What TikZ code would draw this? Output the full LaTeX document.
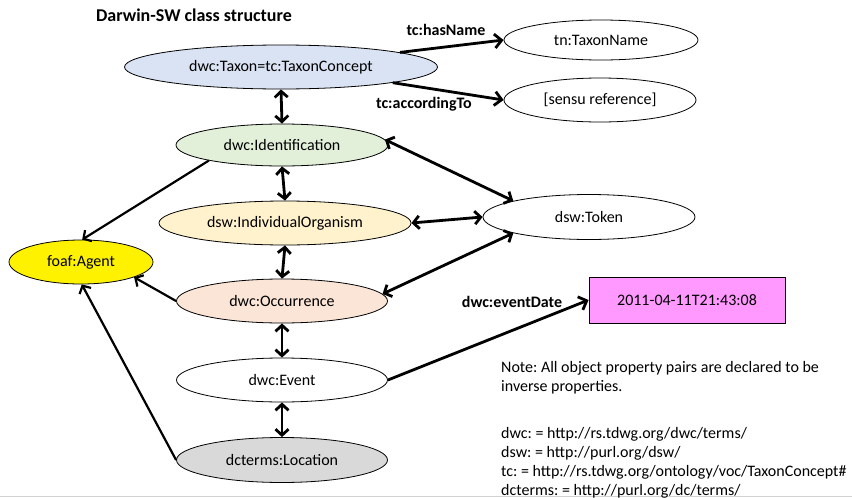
\documentclass[tikz,border=0pt]{standalone}
\usepackage{fontspec}
\setmainfont{Carlito}
\usetikzlibrary{shapes.geometric,arrows.meta}
\definecolor{taxonblue}{HTML}{DAE3F3}
\definecolor{identgreen}{HTML}{E2EFD9}
\definecolor{orgyellow}{HTML}{FFF2CC}
\definecolor{occpeach}{HTML}{FBE5D6}
\definecolor{locgray}{HTML}{D9D9D9}
\definecolor{datepink}{HTML}{FF99FF}
\frenchspacing
\begin{document}
\begin{tikzpicture}[x=1pt,y=-1pt,
  ell/.style={ellipse, draw=black, line width=0.8pt, inner sep=0pt, font=\fontsize{16}{19}\selectfont},
  lbl/.style={font=\bfseries\fontsize{16}{19}\selectfont, inner sep=0pt},
  txt/.style={font=\fontsize{16}{19}\selectfont, inner sep=0pt, anchor=base west},
  onearrow/.style={line width=2.8pt, -{Straight Barb[length=7pt,width=14pt]}},
  twoarrow/.style={line width=2.8pt, {Straight Barb[length=6pt,width=13pt]}-{Straight Barb[length=6pt,width=13pt]}},
  thinarrow/.style={line width=2.2pt, -{Straight Barb[length=6pt,width=13pt]}}
]
\useasboundingbox (0,0) rectangle (852,498);
\fill[white] (0,0) rectangle (852,498);
\draw[gray!35, line width=1pt] (0,496.5) -- (852,496.5);

\node[lbl, font=\bfseries\fontsize{18}{21}\selectfont] (title) at (194,15) {Darwin-SW class structure};

\node[ell, fill=taxonblue, minimum width=313, minimum height=44] (taxon) at (281,67) {dwc:Taxon=tc:TaxonConcept};
\node[ell, fill=white, minimum width=194, minimum height=40] (tname) at (601,40) {tn:TaxonName};
\node[ell, fill=white, minimum width=192, minimum height=44] (sensu) at (600,100) {[sensu reference]};
\node[ell, fill=identgreen, minimum width=212, minimum height=42] (ident) at (282,145) {dwc:Identification};
\node[ell, fill=orgyellow, minimum width=252, minimum height=44] (org) at (285,223) {dsw:IndividualOrganism};
\node[ell, fill=yellow, minimum width=144, minimum height=44] (agent) at (81,262) {foaf:Agent};
\node[ell, fill=occpeach, minimum width=211, minimum height=44] (occ) at (282,301) {dwc:Occurrence};
\node[ell, fill=white, minimum width=211, minimum height=44] (event) at (282,380) {dwc:Event};
\node[ell, fill=locgray, minimum width=211, minimum height=45] (loc) at (282,460) {dcterms:Location};
\node[ell, fill=white, minimum width=212, minimum height=45] (token) at (589,217) {dsw:Token};
\node[draw=black, line width=0.8pt, fill=datepink, minimum width=196, minimum height=46, inner sep=0pt, font=\fontsize{16}{19}\selectfont] (date) at (687,300) {2011-04-11T21:43:08};

% labels
\node[lbl] (lhas) at (446,30) {tc:hasName};
\node[lbl] (lacc) at (424,104) {tc:accordingTo};
\node[lbl] (ldate) at (512,302) {dwc:eventDate};

% connectors
\draw[onearrow] (taxon.7.6) -- (tname.west);
\draw[onearrow] (taxon.-8) -- (sensu.west);
\draw[twoarrow] (taxon.south) -- (ident.north);
\draw[twoarrow] (ident.south) -- (org.north);
\draw[twoarrow] (org.south) -- (occ.north);
\draw[twoarrow] (occ.south) -- (event.north);
\draw[twoarrow] (event.south) -- (loc.north);
\draw[twoarrow] (ident.3) -- (token.168);
\draw[twoarrow] (org.east) -- (token.west);
\draw[twoarrow] (occ.4) -- (token.192);
\draw[onearrow] (event.east) -- (date.west);
\draw[thinarrow] (ident.192) -- (agent.87);
\draw[thinarrow] (occ.west) -- (agent.-16);
\draw[thinarrow] (loc.west) -- (agent.-88);

% note
\node[txt] (n1) at (501,372) {Note: All object property pairs are declared to be};
\node[txt] (n2) at (501,391) {inverse properties.};
\node[txt] (n3) at (501,438) {dwc: = http://rs.tdwg.org/dwc/terms/};
\node[txt] (n4) at (501,457) {dsw: = http://purl.org/dsw/};
\node[txt] (n5) at (501,476) {tc: = http://rs.tdwg.org/ontology/voc/TaxonConcept\#};
\node[txt] (n6) at (501,495) {dcterms: = http://purl.org/dc/terms/};
\end{tikzpicture}
\end{document}
